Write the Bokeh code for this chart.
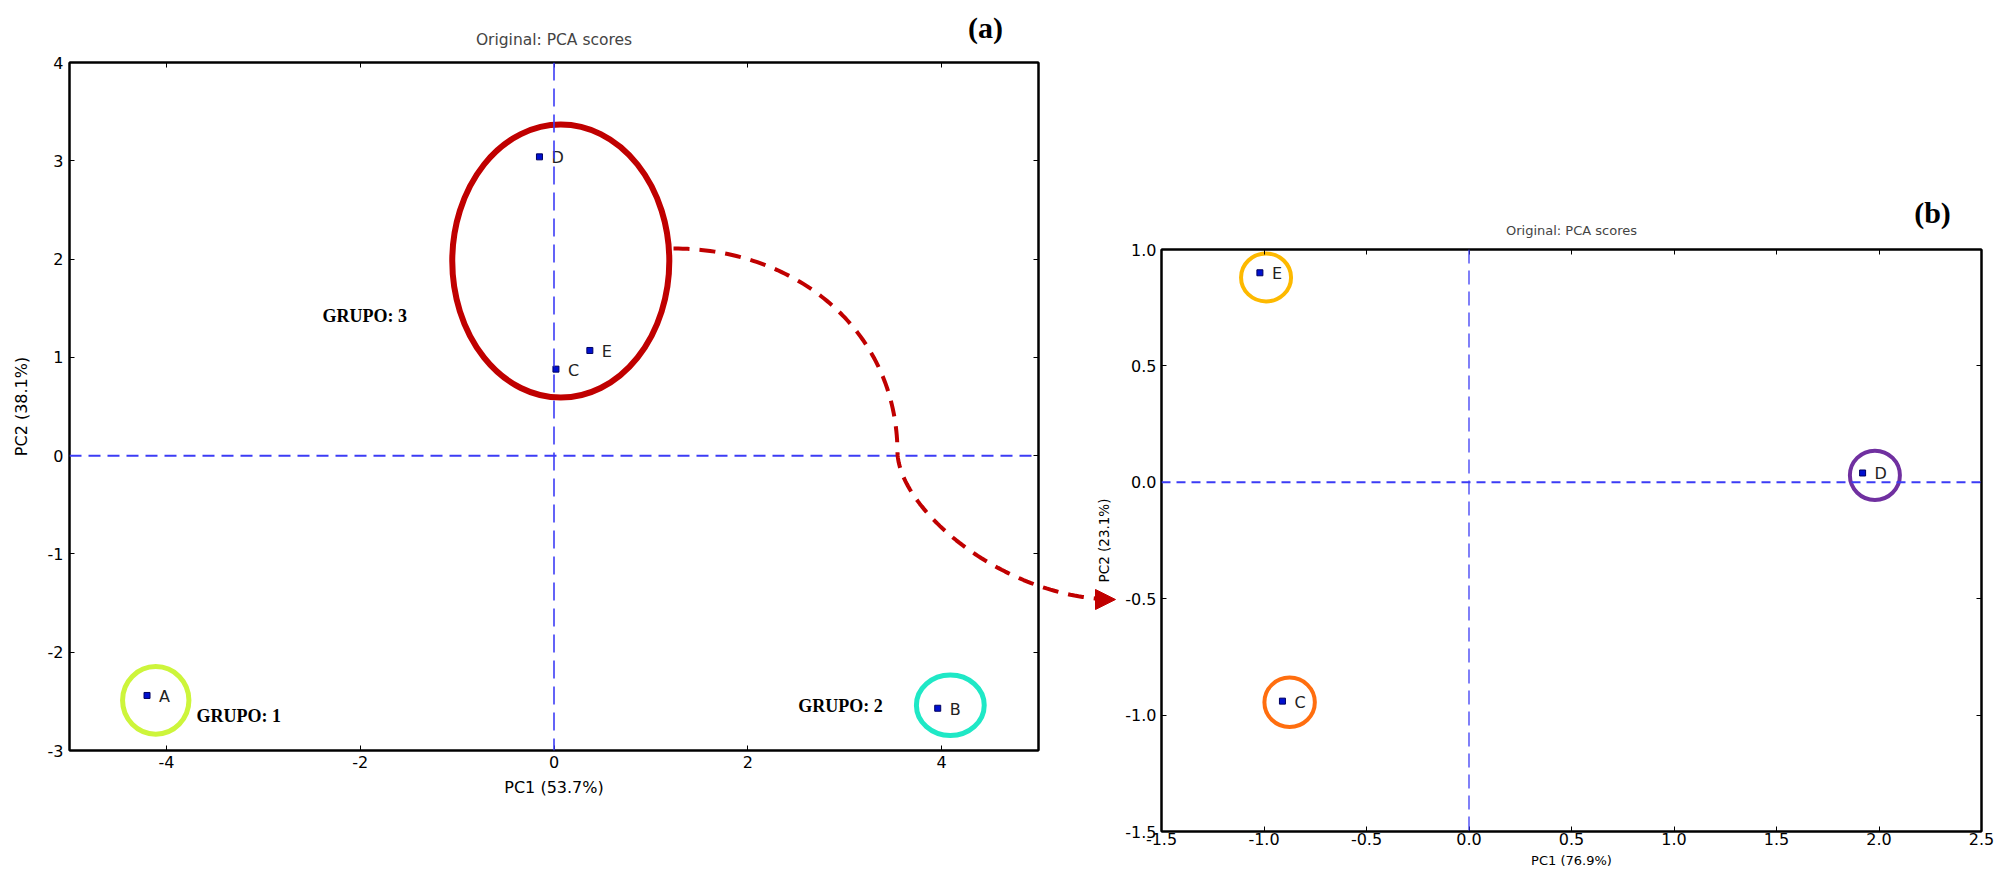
import numpy as np
from bokeh.plotting import figure
from bokeh.models import (Row, Column, LinearAxis, Range1d, Span, Arrow,
                          NormalHead, FixedTicker)
from bokeh.embed import file_html
from bokeh.resources import INLINE
from bokeh.core.properties import value

# ---------------- data ----------------
# Panel (a): original PCA scores of five samples
samples_a = ["A", "B", "C", "D", "E"]
pc1_a = [-4.20, 3.96, 0.02, -0.15, 0.37]
pc2_a = [-2.44, -2.57, 0.88, 3.04, 1.07]

# group rings of panel (a), data units
group_names_a = ["GRUPO: 1", "GRUPO: 2", "GRUPO: 3"]
ring_x_a = [-4.11, 4.09, 0.07]
ring_y_a = [-2.49, -2.54, 1.98]
ring_w_a = [0.685, 0.70, 2.24]
ring_h_a = [0.687, 0.616, 2.78]
group_label_x_a = [-3.69, 2.52, -2.39]
group_label_y_a = [-2.65, -2.55, 1.42]

xticks_a = [-4, -2, 0, 2, 4]
xtick_labels_a = ["-4", "-2", "0", "2", "4"]
yticks_a = [-3, -2, -1, 0, 1, 2, 3, 4]
ytick_labels_a = ["-3", "-2", "-1", "0", "1", "2", "3", "4"]

# Panel (b): PCA scores of group 3 only
samples_b = ["C", "D", "E"]
pc1_b = [-0.91, 1.92, -1.02]
pc2_b = [-0.94, 0.04, 0.90]
ring_x_b = [-0.875, 1.98, -0.99]
ring_y_b = [-0.945, 0.03, 0.88]
ring_w_b = [0.246, 0.244, 0.244]
ring_h_b = [0.212, 0.212, 0.206]

xticks_b = [-1.5, -1.0, -0.5, 0.0, 0.5, 1.0, 1.5, 2.0, 2.5]
xtick_labels_b = ["-1.5", "-1.0", "-0.5", "0.0", "0.5", "1.0", "1.5", "2.0", "2.5"]
yticks_b = [-1.5, -1.0, -0.5, 0.0, 0.5, 1.0]
ytick_labels_b = ["-1.5", "-1.0", "-0.5", "0.0", "0.5", "1.0"]

# ---------------- styles ----------------
ring_colors_a = ["#cdf53b", "#1fe8c6", "#c00000"]
ring_lw_a = [5, 5, 6]
ring_colors_b = ["#ff6e0f", "#7030a0", "#fdb900"]
RED = "#c00000"
SANS = "DejaVu Sans"
SERIF = "Liberation Serif"
H = 875
WA = 1085
WB = 1995 - WA


def style_axes(p, xt, xl, yt, yl, tick_size, line_w):
    bottom = p.below[0]
    left = p.left[0]
    bottom.ticker = FixedTicker(ticks=xt)
    bottom.major_label_overrides = dict(zip(xt, xl))
    left.ticker = FixedTicker(ticks=yt)
    left.major_label_overrides = dict(zip(yt, yl))
    top = LinearAxis(ticker=FixedTicker(ticks=xt), major_label_text_font_size="1px",
                     major_label_text_color=None, major_label_standoff=0)
    right = LinearAxis(ticker=FixedTicker(ticks=yt), major_label_text_font_size="1px",
                       major_label_text_color=None, major_label_standoff=0)
    p.add_layout(top, "above")
    p.add_layout(right, "right")
    for ax in [bottom, left, top, right]:
        ax.major_tick_in = 5
        ax.major_tick_out = 0
        ax.minor_tick_line_color = None
        ax.major_tick_line_color = "black"
        ax.axis_line_color = "black"
        ax.axis_line_width = line_w
        ax.major_label_text_font = SANS
        ax.axis_label_text_font = SANS
        ax.axis_label_text_font_style = "normal"
        ax.axis_label_text_color = "black"
    for ax in [bottom, left]:
        ax.major_label_text_color = "black"
        ax.major_label_text_font_size = tick_size
    p.grid.visible = False
    p.outline_line_color = "black"
    p.outline_line_width = line_w
    return bottom, left


# ---------------- panel (a) ----------------
pa = figure(width=WA, height=H, x_range=Range1d(-5, 5), y_range=Range1d(-3, 4),
            output_backend="svg", toolbar_location=None,
            min_border_left=69, min_border_right=47, min_border_top=62,
            min_border_bottom=H - 750, title="Original: PCA scores",
            background_fill_color="white", border_fill_color="white")
pa.title.align = "center"
pa.title.text_font = SANS
pa.title.text_font_style = "normal"
pa.title.text_font_size = "15.5px"
pa.title.standoff = 27
bxa, lya = style_axes(pa, xticks_a, xtick_labels_a, yticks_a, ytick_labels_a, "16px", 2)
bxa.axis_label = "PC1 (53.7%)"
lya.axis_label = "PC2 (38.1%)"
bxa.axis_label_text_font_size = "16px"
lya.axis_label_text_font_size = "16px"
bxa.major_label_standoff = 5
lya.major_label_standoff = 6
bxa.axis_label_standoff = 7
lya.axis_label_standoff = 14

pa.add_layout(Span(location=0, dimension="height", line_color="#3c3cf5",
                   line_dash="18 8", line_width=1.6))
pa.add_layout(Span(location=0, dimension="width", line_color="#3c3cf5",
                   line_dash="12 7", line_width=2))

pa.ellipse(x=ring_x_a, y=ring_y_a, width=ring_w_a, height=ring_h_a,
           fill_color=None, line_color=ring_colors_a, line_width=ring_lw_a)
pa.scatter(x=pc1_a, y=pc2_a, marker="square", size=6, fill_color="#0010d0",
           line_color="#000060", line_width=1)
pa.text(x=pc1_a, y=pc2_a, text=samples_a, x_offset=12, y_offset=1,
        text_font=value(SANS), text_font_size="16px", text_baseline="middle",
        text_align="left", text_color="#222222")
pa.text(x=group_label_x_a, y=group_label_y_a, text=group_names_a,
        text_font=value(SERIF), text_font_style="bold", text_font_size="18px",
        text_baseline="middle", text_align="left", text_color="black")

# ---------------- panel (b) ----------------
pb = figure(width=WB, height=H, x_range=Range1d(-1.5, 2.5), y_range=Range1d(-1.5, 1.0),
            output_backend="svg", toolbar_location=None,
            min_border_left=1161 - WA, min_border_right=1995 - 1981,
            min_border_top=249, min_border_bottom=H - 831,
            title="Original: PCA scores",
            background_fill_color="white", border_fill_color="white")
pb.title.align = "center"
pb.title.text_font = SANS
pb.title.text_font_style = "normal"
pb.title.text_font_size = "13px"
pb.title.standoff = 24
bxb, lyb = style_axes(pb, xticks_b, xtick_labels_b, yticks_b, ytick_labels_b, "16px", 2)
bxb.axis_label = "PC1 (76.9%)"
lyb.axis_label = "PC2 (23.1%)"
bxb.axis_label_text_font_size = "13px"
lyb.axis_label_text_font_size = "13.5px"
bxb.major_label_standoff = 1
lyb.major_label_standoff = 5
bxb.axis_label_standoff = 5
lyb.axis_label_standoff = 10

pb.add_layout(Span(location=0, dimension="height", line_color="#3c3cf5",
                   line_dash="14 7", line_width=1.3))
pb.add_layout(Span(location=0, dimension="width", line_color="#3c3cf5",
                   line_dash="9 6", line_width=2))

pb.ellipse(x=ring_x_b, y=ring_y_b, width=ring_w_b, height=ring_h_b,
           fill_color=None, line_color=ring_colors_b, line_width=4)
pb.scatter(x=pc1_b, y=pc2_b, marker="square", size=6, fill_color="#0010d0",
           line_color="#000060", line_width=1)
pb.text(x=pc1_b, y=pc2_b, text=samples_b, x_offset=12, y_offset=1,
        text_font=value(SANS), text_font_size="16px", text_baseline="middle",
        text_align="left", text_color="#222222")

# ---------------- overlay: connector arrow and panel tags ----------------
ov = figure(width=1995, height=H, x_range=Range1d(0, 1995), y_range=Range1d(H, 0),
            output_backend="svg", toolbar_location=None, min_border=0,
            x_axis_location=None, y_axis_location=None, title_location=None,
            background_fill_color=None, border_fill_color=None,
            outline_line_color=None, margin=(-H, 0, 0, 0))
ov.grid.visible = False


def bezier(p0, p1, p2, p3, n=80):
    t = np.linspace(0, 1, n)[:, None]
    p0, p1, p2, p3 = map(np.asarray, (p0, p1, p2, p3))
    return (1 - t) ** 3 * p0 + 3 * (1 - t) ** 2 * t * p1 + 3 * (1 - t) * t ** 2 * p2 + t ** 3 * p3


seg1 = bezier((673, 248), (796, 248), (897, 330), (897, 453))
seg2 = bezier((897, 453), (900, 511), (1006, 599), (1115, 599))
curve = np.vstack([seg1, seg2[1:]])
curve = curve[curve[:, 0] < 1100]
ov.line(x=curve[:, 0], y=curve[:, 1], line_color=RED, line_width=4,
        line_dash="16 10")
ov.add_layout(Arrow(end=NormalHead(size=20, fill_color=RED, line_color=RED),
                    x_start=1094, y_start=599, x_end=1115, y_end=599,
                    line_color=None))
ov.text(x=[985, 1932], y=[27, 212], text=["(a)", "(b)"], text_font=value(SERIF),
        text_font_style="bold", text_font_size="30px", text_align="center",
        text_baseline="middle", text_color="black")

panels = Row(children=[Column(children=[pa], spacing=0),
                       Column(children=[pb], spacing=0)], spacing=0)
layout = Column(children=[panels, ov], spacing=0)

open("out.html", "w").write(file_html(layout, INLINE))
